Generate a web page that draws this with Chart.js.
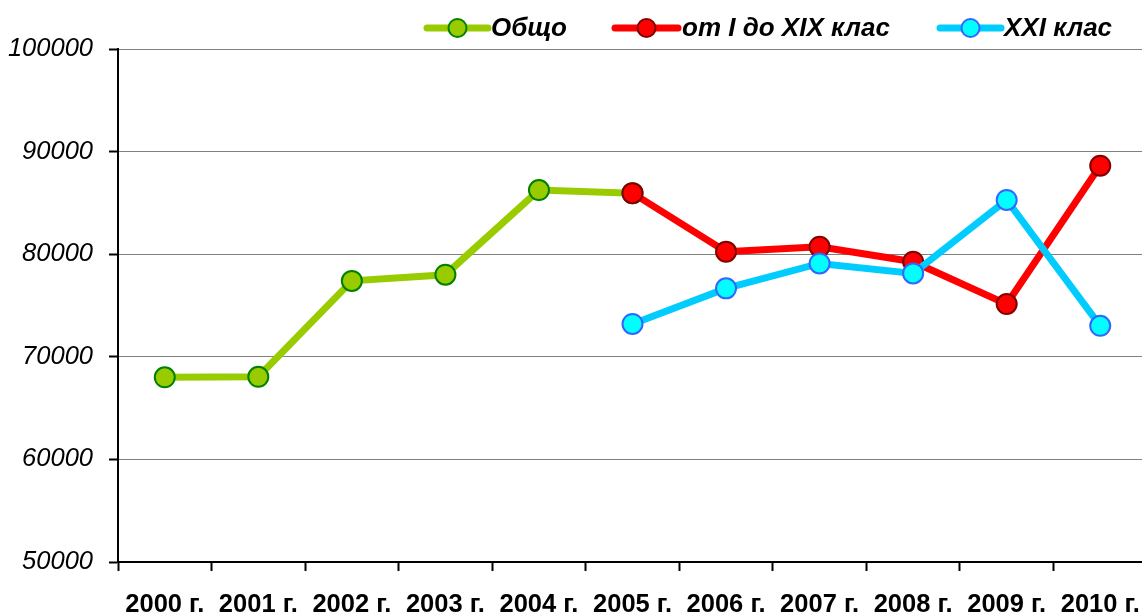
<!DOCTYPE html>
<html>
<head>
<meta charset="utf-8">
<script src="https://cdn.jsdelivr.net/npm/chart.js@4.4.1/dist/chart.umd.min.js"></script>
<style>
  html, body { margin: 0; padding: 0; background: #ffffff; overflow: hidden; }
  #wrap { width: 1147px; height: 615px; }
</style>
</head>
<body>
<div id="wrap"><canvas id="c" width="1147" height="615"></canvas></div>
<script>
const categories = ["2000 г.", "2001 г.", "2002 г.", "2003 г.", "2004 г.", "2005 г.", "2006 г.", "2007 г.", "2008 г.", "2009 г.", "2010 г."];
const totalValues = [68000, 68050, 77400, 78000, 86250, 85950, null, null, null, null, null];
const class1to19Values = [null, null, null, null, null, 85950, 80250, 80730, 79270, 75140, 88630];
const class21Values = [null, null, null, null, null, 73200, 76670, 79100, 78130, 85290, 73020];
const seriesNames = ["Общо", "от I до XIX клас", "XXI клас"];
const yMin = 50000, yMax = 100000, yStep = 10000;

const styles = [
  { line: "#99CC00", fill: "#99CC00", border: "#008000" },
  { line: "#FF0000", fill: "#FF0000", border: "#800000" },
  { line: "#00CCFF", fill: "#00FFFF", border: "#3366FF" }
];

const legendPlugin = {
  id: "customLegend",
  afterDraw(chart) {
    const ctx = chart.ctx;
    const items = [
      { x1: 427, x2: 488, tx: 491 },
      { x1: 615, x2: 678, tx: 682 },
      { x1: 940, x2: 1001, tx: 1004 }
    ];
    const y = 28;
    ctx.save();
    items.forEach((it, i) => {
      const s = styles[i];
      ctx.strokeStyle = s.line;
      ctx.lineWidth = 7;
      ctx.lineCap = "round";
      ctx.beginPath();
      ctx.moveTo(it.x1, y);
      ctx.lineTo(it.x2, y);
      ctx.stroke();
      ctx.beginPath();
      ctx.arc((it.x1 + it.x2) / 2, y, 9, 0, Math.PI * 2);
      ctx.fillStyle = s.fill;
      ctx.fill();
      ctx.lineWidth = 2;
      ctx.strokeStyle = s.border;
      ctx.stroke();
      ctx.fillStyle = "#000";
      ctx.font = "italic bold 26px 'Liberation Sans', Arial, sans-serif";
      ctx.textBaseline = "middle";
      ctx.textAlign = "left";
      ctx.fillText(seriesNames[i], it.tx, y + 1);
    });
    ctx.restore();
  }
};

function ds(label, data, s, order) {
  return {
    label, data, order,
    borderColor: s.line,
    backgroundColor: s.fill,
    borderWidth: 7,
    pointRadius: 10,
    pointHoverRadius: 10,
    pointBorderWidth: 2,
    pointBackgroundColor: s.fill,
    pointBorderColor: s.border,
    tension: 0,
    spanGaps: false
  };
}

new Chart(document.getElementById("c"), {
  type: "line",
  data: {
    labels: categories,
    datasets: [
      ds(seriesNames[0], totalValues, styles[0], 3),
      ds(seriesNames[1], class1to19Values, styles[1], 2),
      ds(seriesNames[2], class21Values, styles[2], 1)
    ]
  },
  options: {
    responsive: false,
    animation: false,
    devicePixelRatio: 1,
    layout: { padding: { top: 49, left: 0, right: 0, bottom: 0 }, autoPadding: false },
    plugins: { legend: { display: false }, tooltip: { enabled: false } },
    events: [],
    scales: {
      x: {
        type: "category",
        offset: true,
        grid: { offset: true, drawOnChartArea: false, drawTicks: true, tickLength: 9, tickColor: "#000", tickWidth: 2 },
        border: { display: true, color: "#000", width: 2 },
        ticks: {
          autoSkip: false, maxRotation: 0, minRotation: 0, padding: 19,
          color: "#000",
          font: { family: "'Liberation Sans', Arial, sans-serif", size: 25.5, weight: "bold" }
        },
        afterFit(scale) {
          scale.height = 53;
          scale.paddingLeft = 0; scale.paddingRight = 0;
          scale.paddingTop = 0; scale.paddingBottom = 0;
        }
      },
      y: {
        min: yMin, max: yMax,
        grid: { color: "#808080", lineWidth: 1, drawTicks: true, tickLength: 9, tickColor: "#000", tickWidth: 2 },
        border: { display: true, color: "#000", width: 2 },
        ticks: {
          stepSize: yStep, padding: 16, color: "#000",
          callback: (v) => String(v),
          font: { family: "'Liberation Sans', Arial, sans-serif", size: 25.5, style: "italic" }
        },
        afterFit(scale) {
          scale.width = 118;
          scale.paddingTop = 0; scale.paddingBottom = 0;
        }
      }
    }
  },
  plugins: [legendPlugin]
});
</script>
</body>
</html>
